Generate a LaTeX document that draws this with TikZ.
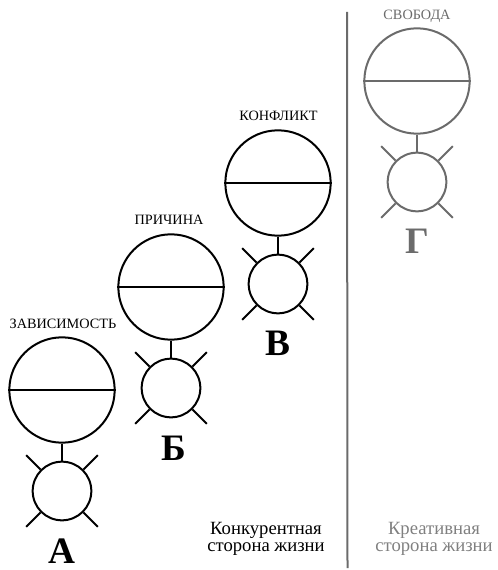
\documentclass[tikz,border=0pt]{standalone}
\usepackage{fontspec}
\setmainfont{Liberation Serif}
\usepackage{xcolor}
\definecolor{softgray}{gray}{0.42}
\definecolor{textgray}{gray}{0.5}
\tikzset{
    ball/.style={draw, circle, line width=1.5pt, inner sep=0pt, minimum size=79pt},
    knob/.style={draw, circle, line width=1.5pt, inner sep=0pt, minimum size=44pt},
    title/.style={font=\fontsize{10.7}{11}\selectfont, inner sep=0pt},
    letter/.style={font=\fontsize{28}{30}\selectfont\bfseries, inner sep=0pt},
    side/.style={font=\fontsize{14}{13}\selectfont, align=center, inner sep=0pt}
}

\begin{document}
\begin{tikzpicture}[x=0.75pt, y=-0.75pt]
    \useasboundingbox (0, 0) rectangle (498, 570);

    \foreach \name/\x/\ya/\yb/\col/\ttl/\tx/\ty/\ltr/\lx/\ly in {
        A/62/390/491/black/ЗАВИСИМОСТЬ/63/324/А/62/551,
        B/171/287/388/black/ПРИЧИНА/169/220/Б/174/448,
        C/278/183/284/black/КОНФЛИКТ/278.5/115.5/В/278/343,
        D/417/81/182/softgray/СВОБОДА/417/16/Г/417/241} {
        \node[ball, \col] (big\name) at (\x, \ya) {};
        \node[knob, \col] (small\name) at (\x, \yb) {};
        \draw[line width=1.5pt, \col] (big\name.west) -- (big\name.east);
        \draw[line width=1.5pt, \col] (big\name.south) -- (small\name.north);
        \foreach \ang in {45, 135, 225, 315} {
            \coordinate (tip\name\ang) at ([shift={(\ang:38pt)}]small\name.center);
            \draw[line width=1.5pt, \col] (small\name.\ang) -- (tip\name\ang);
        }
        \node[title, \col] (title\name) at (\tx, \ty) {\ttl};
        \node[letter, \col] (letter\name) at (\lx, \ly) {\ltr};
    }

    \coordinate (top) at (347, 12);
    \coordinate (bottom) at (347.5, 568);
    \draw[line width=1.5pt, softgray] (top) -- (bottom);

    \node[side] (rival) at (266, 539) {Конкурентная\\сторона жизни};
    \node[side, textgray] (creative) at (434, 539) {Креативная\\сторона жизни};
\end{tikzpicture}
\end{document}
